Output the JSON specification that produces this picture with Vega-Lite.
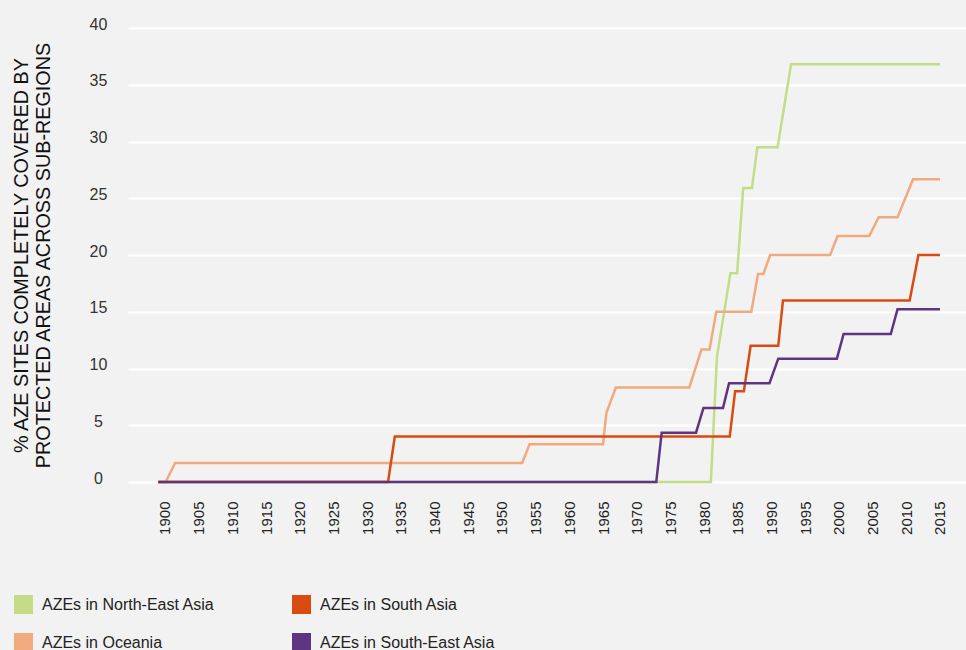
{
  "$schema": "https://vega.github.io/schema/vega-lite/v6.json",
  "width": 838,
  "height": 454,
  "autosize": {"type": "none"},
  "padding": {"left": 128, "top": 28, "right": 0, "bottom": 168},
  "background": "#f2f2f2",
  "config": {"view": {"stroke": null}, "font": "Liberation Sans"},
  "data": {
    "values": [
      {"region": "AZEs in North-East Asia", "year": 1899, "value": 0},
      {"region": "AZEs in North-East Asia", "year": 1981.0, "value": 0},
      {"region": "AZEs in North-East Asia", "year": 1981.9, "value": 11.0},
      {"region": "AZEs in North-East Asia", "year": 1983.9, "value": 18.4},
      {"region": "AZEs in North-East Asia", "year": 1984.9, "value": 18.4},
      {"region": "AZEs in North-East Asia", "year": 1985.8, "value": 25.9},
      {"region": "AZEs in North-East Asia", "year": 1987.1, "value": 25.9},
      {"region": "AZEs in North-East Asia", "year": 1987.9, "value": 29.5},
      {"region": "AZEs in North-East Asia", "year": 1990.9, "value": 29.5},
      {"region": "AZEs in North-East Asia", "year": 1992.9, "value": 36.8},
      {"region": "AZEs in North-East Asia", "year": 2015, "value": 36.8},

      {"region": "AZEs in Oceania", "year": 1899, "value": 0},
      {"region": "AZEs in Oceania", "year": 1900.1, "value": 0},
      {"region": "AZEs in Oceania", "year": 1901.5, "value": 1.67},
      {"region": "AZEs in Oceania", "year": 1953.0, "value": 1.67},
      {"region": "AZEs in Oceania", "year": 1954.1, "value": 3.33},
      {"region": "AZEs in Oceania", "year": 1965.0, "value": 3.33},
      {"region": "AZEs in Oceania", "year": 1965.5, "value": 6.1},
      {"region": "AZEs in Oceania", "year": 1966.9, "value": 8.33},
      {"region": "AZEs in Oceania", "year": 1977.8, "value": 8.33},
      {"region": "AZEs in Oceania", "year": 1979.6, "value": 11.67},
      {"region": "AZEs in Oceania", "year": 1980.8, "value": 11.67},
      {"region": "AZEs in Oceania", "year": 1981.8, "value": 15.0},
      {"region": "AZEs in Oceania", "year": 1987.0, "value": 15.0},
      {"region": "AZEs in Oceania", "year": 1988.0, "value": 18.33},
      {"region": "AZEs in Oceania", "year": 1988.8, "value": 18.33},
      {"region": "AZEs in Oceania", "year": 1989.8, "value": 20.0},
      {"region": "AZEs in Oceania", "year": 1998.7, "value": 20.0},
      {"region": "AZEs in Oceania", "year": 1999.8, "value": 21.67},
      {"region": "AZEs in Oceania", "year": 2004.5, "value": 21.67},
      {"region": "AZEs in Oceania", "year": 2005.9, "value": 23.33},
      {"region": "AZEs in Oceania", "year": 2008.7, "value": 23.33},
      {"region": "AZEs in Oceania", "year": 2011.0, "value": 26.67},
      {"region": "AZEs in Oceania", "year": 2015, "value": 26.67},

      {"region": "AZEs in South Asia", "year": 1899, "value": 0},
      {"region": "AZEs in South Asia", "year": 1933.1, "value": 0},
      {"region": "AZEs in South Asia", "year": 1934.1, "value": 4},
      {"region": "AZEs in South Asia", "year": 1983.8, "value": 4},
      {"region": "AZEs in South Asia", "year": 1984.6, "value": 8},
      {"region": "AZEs in South Asia", "year": 1985.9, "value": 8},
      {"region": "AZEs in South Asia", "year": 1986.9, "value": 12},
      {"region": "AZEs in South Asia", "year": 1991.0, "value": 12},
      {"region": "AZEs in South Asia", "year": 1991.7, "value": 16},
      {"region": "AZEs in South Asia", "year": 2010.5, "value": 16},
      {"region": "AZEs in South Asia", "year": 2011.8, "value": 20},
      {"region": "AZEs in South Asia", "year": 2015, "value": 20},

      {"region": "AZEs in South-East Asia", "year": 1899, "value": 0},
      {"region": "AZEs in South-East Asia", "year": 1972.9, "value": 0},
      {"region": "AZEs in South-East Asia", "year": 1973.7, "value": 4.35},
      {"region": "AZEs in South-East Asia", "year": 1978.8, "value": 4.35},
      {"region": "AZEs in South-East Asia", "year": 1979.9, "value": 6.52},
      {"region": "AZEs in South-East Asia", "year": 1982.8, "value": 6.52},
      {"region": "AZEs in South-East Asia", "year": 1983.7, "value": 8.7},
      {"region": "AZEs in South-East Asia", "year": 1989.7, "value": 8.7},
      {"region": "AZEs in South-East Asia", "year": 1991.0, "value": 10.87},
      {"region": "AZEs in South-East Asia", "year": 1999.7, "value": 10.87},
      {"region": "AZEs in South-East Asia", "year": 2000.7, "value": 13.04},
      {"region": "AZEs in South-East Asia", "year": 2007.7, "value": 13.04},
      {"region": "AZEs in South-East Asia", "year": 2008.7, "value": 15.22},
      {"region": "AZEs in South-East Asia", "year": 2015, "value": 15.22}
    ]
  },
  "mark": {"type": "line", "strokeWidth": 2.5, "interpolate": "linear"},
  "encoding": {
    "x": {
      "field": "year",
      "type": "quantitative",
      "scale": {"domain": [1894.51, 2018.86], "nice": false, "zero": false},
      "axis": {
        "values": [1900, 1905, 1910, 1915, 1920, 1925, 1930, 1935, 1940, 1945, 1950, 1955, 1960, 1965, 1970, 1975, 1980, 1985, 1990, 1995, 2000, 2005, 2010, 2015],
        "format": "d",
        "domain": false,
        "ticks": false,
        "tickSize": 0,
        "grid": false,
        "labelAngle": 270,
        "labelPadding": 19,
        "labelFontSize": 15,
        "labelColor": "#222222",
        "labelFlush": false,
        "labelOverlap": false,
        "title": null
      }
    },
    "y": {
      "field": "value",
      "type": "quantitative",
      "scale": {"domain": [0, 40], "nice": false},
      "axis": {
        "values": [0, 5, 10, 15, 20, 25, 30, 35, 40],
        "domain": false,
        "ticks": false,
        "tickSize": 0,
        "grid": true,
        "gridColor": "#ffffff",
        "gridWidth": 2,
        "labelAlign": "center",
        "labelBaseline": "alphabetic",
        "labelOffset": 1,
        "labelPadding": 30,
        "labelFontSize": 16,
        "labelColor": "#333333",
        "title": ["% AZE SITES COMPLETELY COVERED BY", "PROTECTED AREAS ACROSS SUB-REGIONS"],
        "titleFontSize": 19.8,
        "titleFontWeight": "normal",
        "titleColor": "#111111",
        "titleAngle": 270,
        "titleAlign": "center",
        "titleBaseline": "bottom",
        "titleLineHeight": 22,
        "titleX": -97,
        "titleY": 227
      }
    },
    "color": {
      "field": "region",
      "type": "nominal",
      "scale": {
        "domain": ["AZEs in North-East Asia", "AZEs in Oceania", "AZEs in South Asia", "AZEs in South-East Asia"],
        "range": ["#c4dc88", "#f0aa7e", "#da4b12", "#5e3483"]
      },
      "legend": {
        "title": null,
        "orient": "none",
        "legendX": -114,
        "legendY": 567,
        "columns": 2,
        "symbolType": "square",
        "symbolSize": 361,
        "symbolStrokeWidth": 0,
        "labelFontSize": 16,
        "labelColor": "#222222",
        "labelOffset": 9,
        "columnPadding": 77,
        "rowPadding": 19,
        "labelLimit": 300,
        "padding": 0,
        "encode": {
          "symbols": {
            "update": {
              "fill": {"scale": "color", "field": "value"},
              "stroke": {"value": "transparent"}
            }
          }
        }
      }
    }
  }
}
